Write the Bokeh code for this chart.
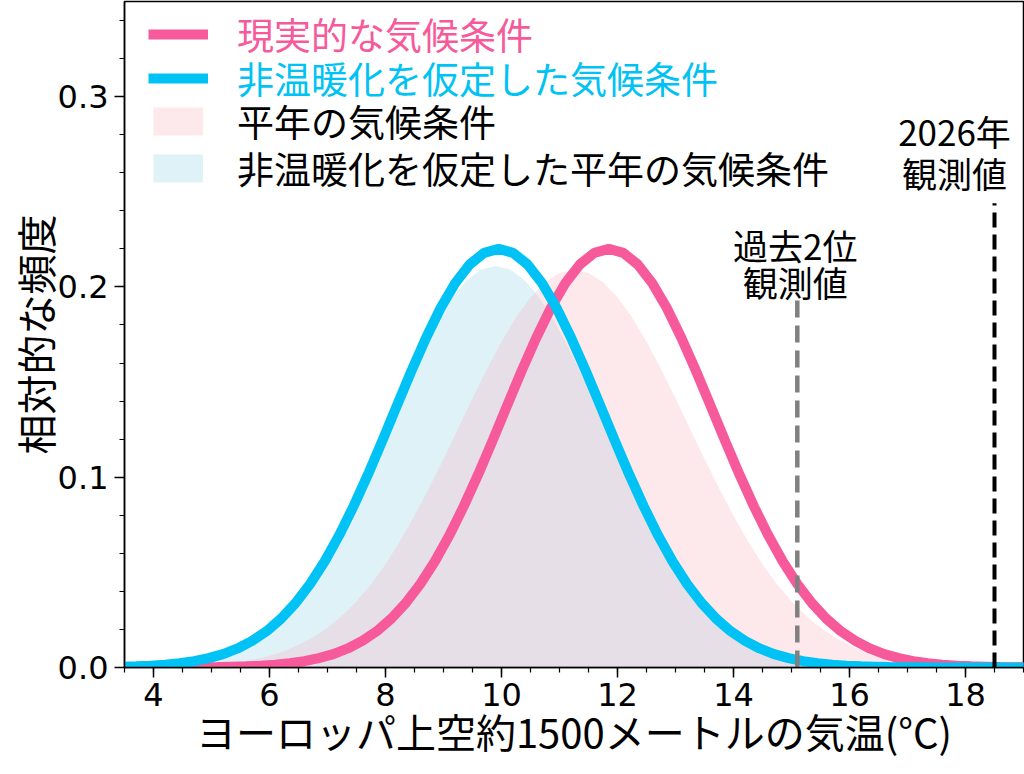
from bokeh.plotting import figure
from bokeh.models import Legend, LegendItem, FixedTicker, PrintfTickFormatter, Range1d
from bokeh.embed import file_html
from bokeh.resources import INLINE
from bokeh.core.properties import value

# ---------------- data ----------------
# 現実的な気候条件 (pink line)
real_x = [3.35, 3.60, 3.85, 4.10, 4.35, 4.60, 4.85, 5.10, 5.35, 5.60, 5.85, 6.10, 6.35, 6.60, 6.85, 7.10,
          7.35, 7.60, 7.85, 8.10, 8.35, 8.60, 8.85, 9.10, 9.35, 9.60, 9.85, 10.10, 10.35, 10.60, 10.85, 11.10,
          11.35, 11.60, 11.85, 12.10, 12.35, 12.60, 12.85, 13.10, 13.35, 13.60, 13.85, 14.10, 14.35, 14.60,
          14.85, 15.10, 15.35, 15.60, 15.85, 16.10, 16.35, 16.60, 16.85, 17.10, 17.35, 17.60, 17.85, 18.10,
          18.35, 18.60, 18.85, 19.10]
real_y = [0.0000, 0.0000, 0.0000, 0.0000, 0.0000, 0.0001, 0.0001, 0.0002, 0.0004, 0.0006, 0.0009, 0.0014,
          0.0022, 0.0033, 0.0049, 0.0070, 0.0100, 0.0140, 0.0191, 0.0257, 0.0339, 0.0439, 0.0557, 0.0694,
          0.0848, 0.1016, 0.1195, 0.1379, 0.1561, 0.1733, 0.1889, 0.2019, 0.2118, 0.2179, 0.2200, 0.2179,
          0.2118, 0.2019, 0.1889, 0.1733, 0.1561, 0.1379, 0.1195, 0.1016, 0.0848, 0.0694, 0.0557, 0.0439,
          0.0339, 0.0257, 0.0191, 0.0140, 0.0100, 0.0070, 0.0049, 0.0033, 0.0022, 0.0014, 0.0009, 0.0006,
          0.0004, 0.0002, 0.0001, 0.0001]

# 非温暖化を仮定した気候条件 (cyan line)
nonwarm_x = [3.45, 3.70, 3.95, 4.20, 4.45, 4.70, 4.95, 5.20, 5.45, 5.70, 5.95, 6.20, 6.45, 6.70, 6.95, 7.20,
             7.45, 7.70, 7.95, 8.20, 8.45, 8.70, 8.95, 9.20, 9.45, 9.70, 9.95, 10.20, 10.45, 10.70, 10.95,
             11.20, 11.45, 11.70, 11.95, 12.20, 12.45, 12.70, 12.95, 13.20, 13.45, 13.70, 13.95, 14.20, 14.45,
             14.70, 14.95, 15.20, 15.45, 15.70, 15.95, 16.20, 16.45, 16.70, 16.95, 17.20, 17.45, 17.70, 17.95,
             18.20, 18.45, 18.70, 18.95, 19.20]
nonwarm_y = [0.0004, 0.0006, 0.0009, 0.0014, 0.0022, 0.0033, 0.0049, 0.0070, 0.0100, 0.0140, 0.0191, 0.0257,
             0.0339, 0.0439, 0.0557, 0.0694, 0.0848, 0.1016, 0.1195, 0.1379, 0.1561, 0.1733, 0.1889, 0.2019,
             0.2118, 0.2179, 0.2200, 0.2179, 0.2118, 0.2019, 0.1889, 0.1733, 0.1561, 0.1379, 0.1195, 0.1016,
             0.0848, 0.0694, 0.0557, 0.0439, 0.0339, 0.0257, 0.0191, 0.0140, 0.0100, 0.0070, 0.0049, 0.0033,
             0.0022, 0.0014, 0.0009, 0.0006, 0.0004, 0.0002, 0.0001, 0.0001, 0.0000, 0.0000, 0.0000, 0.0000,
             0.0000, 0.0000, 0.0000, 0.0000]

# 平年の気候条件 (pink shade)
normal_x = [3.50, 3.75, 4.00, 4.25, 4.50, 4.75, 5.00, 5.25, 5.50, 5.75, 6.00, 6.25, 6.50, 6.75, 7.00, 7.25,
            7.50, 7.75, 8.00, 8.25, 8.50, 8.75, 9.00, 9.25, 9.50, 9.75, 10.00, 10.25, 10.50, 10.75, 11.00,
            11.25, 11.50, 11.75, 12.00, 12.25, 12.50, 12.75, 13.00, 13.25, 13.50, 13.75, 14.00, 14.25, 14.50,
            14.75, 15.00, 15.25, 15.50, 15.75, 16.00, 16.25, 16.50, 16.75, 17.00, 17.25, 17.50, 17.75, 18.00,
            18.25, 18.50, 18.75, 19.00]
normal_y = [0.0001, 0.0002, 0.0003, 0.0004, 0.0006, 0.0010, 0.0014, 0.0021, 0.0031, 0.0044, 0.0062, 0.0086,
            0.0118, 0.0158, 0.0209, 0.0272, 0.0348, 0.0438, 0.0543, 0.0663, 0.0797, 0.0942, 0.1096, 0.1255,
            0.1414, 0.1569, 0.1712, 0.1840, 0.1945, 0.2024, 0.2073, 0.2090, 0.2073, 0.2024, 0.1945, 0.1840,
            0.1712, 0.1569, 0.1414, 0.1255, 0.1096, 0.0942, 0.0797, 0.0663, 0.0543, 0.0438, 0.0348, 0.0272,
            0.0209, 0.0158, 0.0118, 0.0086, 0.0062, 0.0044, 0.0031, 0.0021, 0.0014, 0.0010, 0.0006, 0.0004,
            0.0003, 0.0002, 0.0001]

# 非温暖化を仮定した平年の気候条件 (blue shade)
nonwarm_normal_x = [3.40, 3.65, 3.90, 4.15, 4.40, 4.65, 4.90, 5.15, 5.40, 5.65, 5.90, 6.15, 6.40, 6.65, 6.90,
                    7.15, 7.40, 7.65, 7.90, 8.15, 8.40, 8.65, 8.90, 9.15, 9.40, 9.65, 9.90, 10.15, 10.40, 10.65,
                    10.90, 11.15, 11.40, 11.65, 11.90, 12.15, 12.40, 12.65, 12.90, 13.15, 13.40, 13.65, 13.90,
                    14.15, 14.40, 14.65, 14.90, 15.15, 15.40, 15.65, 15.90, 16.15, 16.40, 16.65, 16.90, 17.15,
                    17.40, 17.65, 17.90, 18.15, 18.40, 18.65, 18.90, 19.15]
nonwarm_normal_y = [0.0005, 0.0008, 0.0012, 0.0018, 0.0027, 0.0039, 0.0057, 0.0081, 0.0113, 0.0155, 0.0209,
                    0.0276, 0.0359, 0.0458, 0.0575, 0.0707, 0.0855, 0.1015, 0.1184, 0.1355, 0.1524, 0.1684,
                    0.1826, 0.1945, 0.2035, 0.2091, 0.2110, 0.2091, 0.2035, 0.1945, 0.1826, 0.1684, 0.1524,
                    0.1355, 0.1184, 0.1015, 0.0855, 0.0707, 0.0575, 0.0458, 0.0359, 0.0276, 0.0209, 0.0155,
                    0.0113, 0.0081, 0.0057, 0.0039, 0.0027, 0.0018, 0.0012, 0.0008, 0.0005, 0.0003, 0.0002,
                    0.0001, 0.0001, 0.0000, 0.0000, 0.0000, 0.0000, 0.0000, 0.0000, 0.0000]

# observed values (vertical dashed lines)
obs_x = [15.1, 18.5]
obs_top = [0.195, 0.244]
obs_label_1 = ["過去2位", "2026年"]
obs_label_2 = ["観測値", "観測値"]

series_labels = ["現実的な気候条件", "非温暖化を仮定した気候条件", "平年の気候条件", "非温暖化を仮定した平年の気候条件"]
x_ticks = [4, 6, 8, 10, 12, 14, 16, 18]
y_ticks = [0.0, 0.1, 0.2, 0.3]
x_label = "ヨーロッパ上空約1500メートルの気温(°C)"
y_label = "相対的な頻度"

# ---------------- styling ----------------
PINK = "#f65a9b"
CYAN = "#00c2f4"
PINK_FILL = "#f8b2c0"
BLUE_FILL = "#6dc4df"
PINK_A = 0.3
BLUE_A = 0.22
JP = "Noto Sans CJK JP"
TICK_FONT = "DejaVu Sans"
NAN = float("nan")

p = figure(width=1024, height=774, x_range=Range1d(3.5, 19), y_range=Range1d(0, 0.35),
           output_backend="svg", toolbar_location=None,
           min_border_left=124, min_border_right=1, min_border_top=1, min_border_bottom=107)
p.xgrid.visible = False
p.ygrid.visible = False
p.outline_line_color = "black"
p.outline_line_width = 1.5
p.outline_line_alpha = 1.0

r_nn = p.varea(x=nonwarm_normal_x, y1=0, y2=nonwarm_normal_y, fill_color=BLUE_FILL, fill_alpha=BLUE_A)
r_normal = p.varea(x=normal_x, y1=0, y2=normal_y, fill_color=PINK_FILL, fill_alpha=PINK_A)
r_real = p.line(real_x, real_y, line_color=PINK, line_width=10)
r_nw = p.line(nonwarm_x, nonwarm_y, line_color=CYAN, line_width=10)

# legend swatches for the shaded areas (50x28 boxes, like the reference); no visible data
sw_normal = p.line(x=[NAN, NAN], y=[NAN, NAN], line_color=PINK_FILL, line_alpha=PINK_A, line_width=28)
sw_nn = p.line(x=[NAN, NAN], y=[NAN, NAN], line_color=BLUE_FILL, line_alpha=BLUE_A, line_width=28)

p.segment(x0=obs_x[:1], y0=[0], x1=obs_x[:1], y1=obs_top[:1], line_color="#808080",
          line_width=4.5, line_dash="17 8")
p.segment(x0=obs_x[1:], y0=[0], x1=obs_x[1:], y1=obs_top[1:], line_color="black",
          line_width=4, line_dash="15 7")

for i, (dx, o1, o2) in enumerate([(-2, -52, -15), (-40, -73, -31)]):
    for lab, off in ((obs_label_1, o1), (obs_label_2, o2)):
        p.text(x=[obs_x[i]], y=[obs_top[i]], text=[lab[i]], x_offset=dx, y_offset=off,
               text_align="center", text_baseline="middle", text_color="black",
               text_font=value(JP), text_font_size="35px")

# axes
for ax in (p.xaxis[0], p.yaxis[0]):
    ax.axis_line_color = "black"
    ax.axis_line_width = 1.5
    ax.major_tick_line_color = "black"
    ax.major_tick_line_width = 1.5
    ax.minor_tick_line_color = "black"
    ax.minor_tick_line_width = 1.2
    ax.major_tick_out = 10
    ax.major_tick_in = 0
    ax.minor_tick_out = 5
    ax.minor_tick_in = 0
    ax.major_label_text_font = TICK_FONT
    ax.major_label_text_font_size = "32px"
    ax.major_label_text_color = "black"
    ax.axis_label_text_font = JP
    ax.axis_label_text_font_size = "40px"
    ax.axis_label_text_font_style = "normal"
    ax.axis_label_text_color = "black"

p.xaxis.ticker = FixedTicker(ticks=x_ticks, minor_ticks=[3.5 + 0.5 * i for i in range(32)])
p.yaxis.ticker = FixedTicker(ticks=y_ticks, minor_ticks=[0.02 * i for i in range(18)])
p.yaxis.formatter = PrintfTickFormatter(format="%.1f")
p.xaxis.axis_label = x_label
p.yaxis.axis_label = y_label
p.xaxis.major_label_standoff = 5
p.xaxis.axis_label_standoff = -7
p.yaxis.major_label_standoff = 6
p.yaxis.axis_label_standoff = -9

# legends (one per entry so each label can carry its own colour)
LH = 54
def add_legend(label, rend, color, x, y, gw, standoff):
    leg = Legend(items=[LegendItem(label=label, renderers=[rend])], location=(x, y),
                 glyph_width=gw, glyph_height=LH, label_height=LH, label_standoff=standoff,
                 label_text_font=JP, label_text_font_size="37px", label_text_color=color,
                 label_text_baseline="middle",
                 border_line_alpha=0, background_fill_alpha=0, padding=0, margin=0, spacing=0)
    p.add_layout(leg)

add_legend(series_labels[0], r_real, PINK, 24, 606, 60, 29)
add_legend(series_labels[1], r_nw, CYAN, 24, 562, 60, 29)
add_legend(series_labels[2], sw_normal, "black", 29, 519, 50, 34)
add_legend(series_labels[3], sw_nn, "black", 29, 472, 50, 34)

open("out.html", "w").write(file_html(p, INLINE))
